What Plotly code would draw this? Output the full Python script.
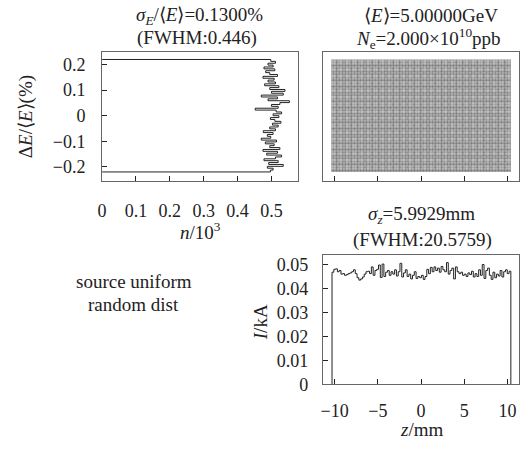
import plotly.graph_objects as go

# -------------------------
# DATA
# -------------------------
# energy-spread histogram: 60 bins between -0.22% and +0.22%, counts in units of 10^3
DE_LIMITS = [-0.22, 0.22]
de_counts = [
    0.497, 0.505, 0.488, 0.535, 0.492, 0.520, 0.478, 0.512, 0.530, 0.486,
    0.518, 0.475, 0.525, 0.495, 0.508, 0.482, 0.515, 0.470, 0.498, 0.488,
    0.505, 0.476, 0.512, 0.495, 0.520, 0.503, 0.528, 0.510, 0.497, 0.522,
    0.505, 0.530, 0.514, 0.452, 0.520, 0.500, 0.525, 0.553, 0.490, 0.518,
    0.470, 0.535, 0.500, 0.540, 0.495, 0.522, 0.480, 0.512, 0.490, 0.508,
    0.475, 0.518, 0.495, 0.483, 0.510, 0.478, 0.505, 0.490, 0.512, 0.498,
]

# current profile: 100 bins between -10.3 mm and +10.4 mm, current in kA
Z_LIMITS = [-10.3, 10.4]
z_current = [
    0.0468, 0.0480, 0.0482, 0.0470, 0.0475, 0.0460, 0.0462, 0.0455, 0.0458, 0.0462,
    0.0465, 0.0470, 0.0478, 0.0462, 0.0445, 0.0435, 0.0440, 0.0448, 0.0460, 0.0470,
    0.0472, 0.0462, 0.0490, 0.0455, 0.0475, 0.0480, 0.0498, 0.0446, 0.0502, 0.0450,
    0.0468, 0.0475, 0.0455, 0.0470, 0.0460, 0.0478, 0.0452, 0.0470, 0.0505, 0.0448,
    0.0465, 0.0478, 0.0450, 0.0460, 0.0440, 0.0455, 0.0470, 0.0442, 0.0450, 0.0445,
    0.0455, 0.0438, 0.0450, 0.0480, 0.0462, 0.0488, 0.0470, 0.0490, 0.0475, 0.0485,
    0.0468, 0.0492, 0.0478, 0.0470, 0.0508, 0.0460, 0.0475, 0.0485, 0.0440, 0.0490,
    0.0470, 0.0462, 0.0468, 0.0455, 0.0460, 0.0450, 0.0465, 0.0458, 0.0472, 0.0448,
    0.0462, 0.0450, 0.0478, 0.0455, 0.0500, 0.0442, 0.0475, 0.0485, 0.0455, 0.0438,
    0.0468, 0.0445, 0.0460, 0.0452, 0.0475, 0.0448, 0.0470, 0.0478, 0.0462, 0.0472,
]

# extent of the uniformly filled phase space (z in mm, dE/E in %)
PHASE_Z = [-10.4, 10.4]
PHASE_DE = [-0.22, 0.22]

X_TICKS_N = [0, 0.1, 0.2, 0.3, 0.4, 0.5]
Y_TICKS_DE = [-0.2, -0.1, 0, 0.1, 0.2]
X_TICKS_Z = [-10, -5, 0, 5, 10]
Y_TICKS_I = [0, 0.01, 0.02, 0.03, 0.04, 0.05]


# -------------------------
# STEP PATHS
# -------------------------
def edges(lims, n):
    w = (lims[1] - lims[0]) / n
    return [lims[0] + i * w for i in range(n + 1)]


de_edges = edges(DE_LIMITS, len(de_counts))
hx, hy = [0], [de_edges[0]]
for i, c in enumerate(de_counts):
    hx += [c, c]
    hy += [de_edges[i], de_edges[i + 1]]
hx.append(0)
hy.append(de_edges[-1])

z_edges = edges(Z_LIMITS, len(z_current))
zx, zy = [z_edges[0]], [0]
for i, c in enumerate(z_current):
    zx += [z_edges[i], z_edges[i + 1]]
    zy += [c, c]
zx.append(z_edges[-1])
zy.append(0)

FONT = "'Liberation Serif', 'Times New Roman', Times, serif"
INK = "#222"
FRAME = "#666"

fig = go.Figure()

fig.add_trace(go.Scatter(x=hx, y=hy, mode="lines", xaxis="x", yaxis="y",
                         line=dict(color=INK, width=1), showlegend=False))

# phase space: uniform dot texture over the filled region
px = [PHASE_Z[0], PHASE_Z[1], PHASE_Z[1], PHASE_Z[0], PHASE_Z[0]]
py = [PHASE_DE[0], PHASE_DE[0], PHASE_DE[1], PHASE_DE[1], PHASE_DE[0]]
fig.add_trace(go.Scatter(x=px, y=py, mode="none", fill="toself", xaxis="x2", yaxis="y2",
                         fillpattern=dict(shape=".", fgcolor="#333333", bgcolor="#bcbcbc",
                                          size=3, solidity=0.5),
                         showlegend=False))
fig.add_trace(go.Scatter(x=px, y=py, mode="none", fill="toself", xaxis="x2", yaxis="y2",
                         fillpattern=dict(shape=".", fgcolor="rgba(255,255,255,0.5)",
                                          bgcolor="rgba(0,0,0,0)", size=7, solidity=0.35),
                         showlegend=False))

fig.add_trace(go.Scatter(x=zx, y=zy, mode="lines", xaxis="x3", yaxis="y3",
                         line=dict(color=INK, width=1), showlegend=False))

W, H = 526, 450


def dom_x(a, b):
    return [a / W, b / W]


def dom_y(top, bottom):
    return [1 - bottom / H, 1 - top / H]


axis_common = dict(showline=True, linecolor=FRAME, linewidth=1, mirror=True,
                   ticks="inside", ticklen=5, tickcolor=INK, showgrid=False,
                   zeroline=False, tickfont=dict(family=FONT, size=18, color=INK))

fig.update_layout(
    width=W, height=H,
    margin=dict(l=0, r=0, t=0, b=0),
    paper_bgcolor="white", plot_bgcolor="white",
    font=dict(family=FONT, color=INK),
    xaxis=dict(axis_common, domain=dom_x(98, 296), anchor="y", range=[0, 0.579],
               tickvals=X_TICKS_N, ticklabelstandoff=14),
    yaxis=dict(axis_common, domain=dom_y(53, 185), anchor="x", range=[-0.255, 0.25],
               tickvals=Y_TICKS_DE, ticklabelstandoff=12),
    xaxis2=dict(axis_common, domain=dom_x(321, 519), anchor="y2", range=[-11.35, 11.35],
                tickvals=X_TICKS_Z, showticklabels=False),
    yaxis2=dict(axis_common, domain=dom_y(53, 185), anchor="x2", range=[-0.255, 0.25],
                ticks="", showticklabels=False),
    xaxis3=dict(axis_common, domain=dom_x(321, 519), anchor="y3", range=[-11.35, 11.35],
                tickvals=X_TICKS_Z, ticklabelstandoff=10),
    yaxis3=dict(axis_common, domain=dom_y(261, 393), anchor="x3", range=[0, 0.0539],
                tickvals=Y_TICKS_I, ticklabelstandoff=10),
)


def note(text, x, y, size=19, angle=0):
    fig.add_annotation(text=text, x=x / W, y=1 - y / H, xref="paper", yref="paper",
                       showarrow=False, textangle=angle, xanchor="center", yanchor="middle",
                       font=dict(family=FONT, size=size, color=INK))


note("<i>σ<sub>E</sub></i>/⟨<i>E</i>⟩=0.1300%", 196, 16)
note("(FWHM:0.446)", 194, 39)
note("⟨<i>E</i>⟩=5.00000GeV", 430, 16)
note("<i>N</i><sub>e</sub>=2.000×10<sup>10</sup>ppb", 428, 39)
note("<i>σ<sub>z</sub></i>=5.9929mm", 420, 220)
note("(FWHM:20.5759)", 422, 245)
note("source uniform", 130, 288)
note("random dist", 130, 311)
note("Δ<i>E</i>/⟨<i>E</i>⟩(%)", 22, 119, angle=-90)
note("<i>n</i>/10<sup>3</sup>", 197, 236)
note("<i>I</i>/kA", 258, 330, angle=-90)
note("<i>z</i>/mm", 420, 439)

# page body has a default margin; drop it so the 526x450 figure fits the window exactly
page_fix = (
    "document.documentElement.style.margin='0';"
    "document.documentElement.style.overflow='hidden';"
    "document.body.style.margin='0';"
    "document.body.style.overflow='hidden';"
)
fig.write_html("out.html", config={"displayModeBar": False}, post_script=page_fix)
